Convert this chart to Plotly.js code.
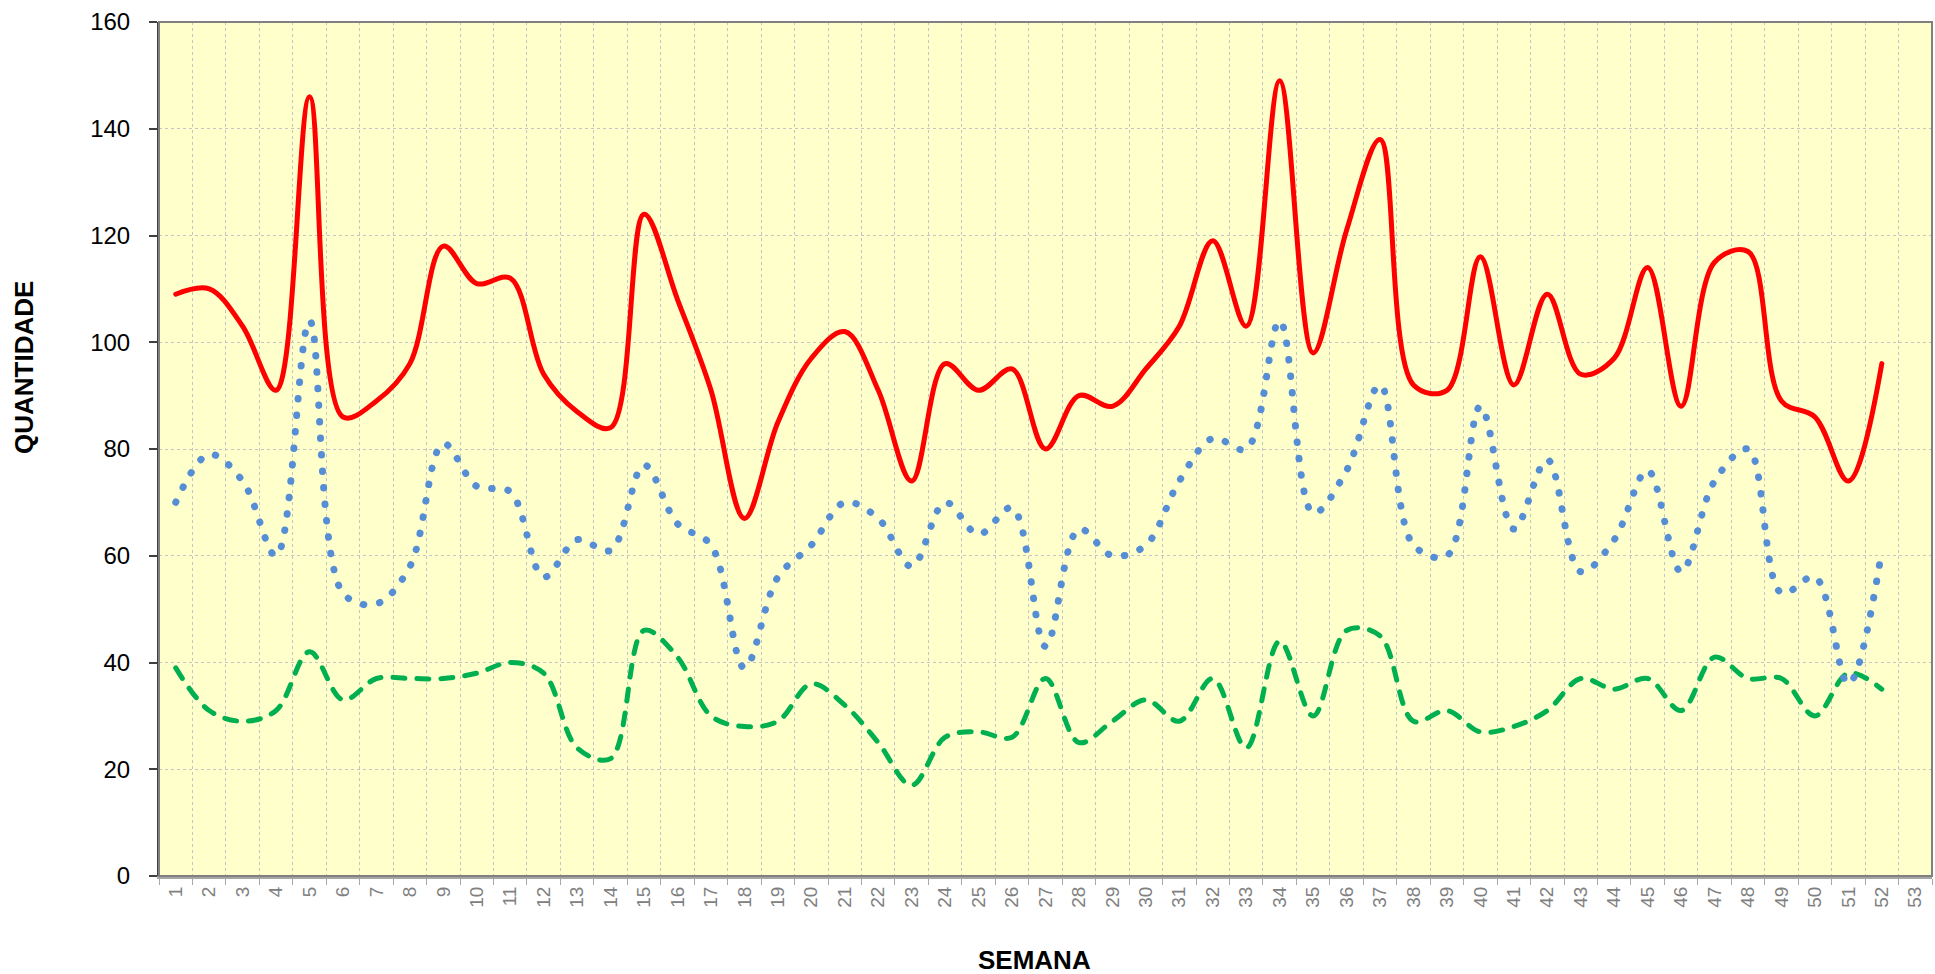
<!DOCTYPE html>
<html>
<head>
<meta charset="utf-8">
<script src="https://cdn.plot.ly/plotly-3.0.1.min.js"></script>
<style>
  html, body { margin: 0; padding: 0; background: #ffffff; }
  #chart { width: 1935px; height: 974px; }
  .scatterlayer .js-line { stroke-linecap: round; stroke-linejoin: round; }
</style>
</head>
<body>
<div id="chart"></div>
<script>
// Tick labels (weeks)
const semanas = ['1','2','3','4','5','6','7','8','9','10','11','12','13','14','15','16','17','18','19','20',
  '21','22','23','24','25','26','27','28','29','30','31','32','33','34','35','36','37','38','39','40',
  '41','42','43','44','45','46','47','48','49','50','51','52','53'];

// Series values (weeks 1..52)
const serieVermelha = [109,110,103,91,146,86,89,96,118,111,112,94,87,84,124,108,91,67,85,97,102,91,74,96,91,95,80,90,88,95,103,119,103,149,98,121,138,92,91,116,92,109,94,97,114,88,115,117,89,86,74,96];
const serieAzul = [70,79,74,60,104,53,51,58,81,73,72,56,63,61,77,66,62,39,56,62,70,67,58,70,64,69,43,65,60,62,74,82,80,104,68,76,92,62,60,88,65,78,57,63,76,57,74,80,53,56,36,61];
const serieVerde = [39,31,29,31,42,33,37,37,37,38,40,38,24,22,46,41,30,28,29,36,32,25,17,26,27,26,37,25,29,33,29,37,24,44,30,46,45,29,31,27,28,31,37,35,37,31,41,37,37,30,38,35];

const xWeeks = semanas.slice(0, serieVermelha.length);

const traces = [
  { x: xWeeks, y: serieVerde, type: 'scatter', mode: 'lines', name: 'Verde',
    line: { color: '#00B050', width: 5, shape: 'spline', smoothing: 1, dash: '12px,12px' } },
  { x: xWeeks, y: serieVermelha, type: 'scatter', mode: 'lines', name: 'Vermelha',
    line: { color: '#FF0000', width: 5, shape: 'spline', smoothing: 1 } },
  { x: xWeeks, y: serieAzul, type: 'scatter', mode: 'lines', name: 'Azul',
    line: { color: '#558ED5', width: 7, shape: 'spline', smoothing: 1, dash: '0.5px,16px' } }
];

const fontFam = 'Liberation Sans, Arial, sans-serif';

const layout = {
  width: 1935, height: 974,
  margin: { l: 159, r: 3, t: 22, b: 98, pad: 0 },
  paper_bgcolor: '#ffffff',
  plot_bgcolor: '#FFFFCC',
  showlegend: false,
  font: { family: fontFam },
  xaxis: {
    type: 'category',
    categoryorder: 'array',
    categoryarray: semanas,
    range: [-0.5, semanas.length - 0.5],
    tickson: 'boundaries',
    ticks: 'outside', ticklen: 6, tickwidth: 1, tickcolor: '#a6a6a6',
    tickangle: -90,
    tickfont: { family: fontFam, size: 19, color: '#808080' },
    showgrid: true, gridcolor: '#c4c4c4', gridwidth: 1, griddash: 'dot',
    showline: true, linecolor: '#a6a6a6', linewidth: 3,
    zeroline: false, fixedrange: true
  },
  yaxis: {
    range: [0, 160], dtick: 20, tick0: 0,
    ticks: 'outside', ticklen: 8, tickwidth: 2, tickcolor: '#404040',
    tickfont: { family: fontFam, size: 24, color: '#000000' },
    ticklabelstandoff: 14,
    showgrid: true, gridcolor: '#c4c4c4', gridwidth: 1, griddash: 'dot',
    showline: true, linecolor: '#404040', linewidth: 2,
    zeroline: false, fixedrange: true
  },
  shapes: [
    { type: 'rect', xref: 'paper', yref: 'paper', x0: 0, x1: 1, y0: 0, y1: 1,
      line: { color: '#808080', width: 2 }, fillcolor: 'rgba(0,0,0,0)', layer: 'above' }
  ],
  annotations: [
    { text: '<b>QUANTIDADE</b>', xref: 'paper', yref: 'paper',
      x: (24 - 159) / 1773, y: (876 - 368) / 854, xanchor: 'center', yanchor: 'middle',
      textangle: -90, showarrow: false, font: { family: fontFam, size: 26, color: '#000000' } },
    { text: '<b>SEMANA</b>', xref: 'paper', yref: 'paper',
      x: (1034 - 159) / 1773, y: (876 - 960) / 854, xanchor: 'center', yanchor: 'middle',
      showarrow: false, font: { family: fontFam, size: 26, color: '#000000' } }
  ]
};

Plotly.newPlot('chart', traces, layout, { displayModeBar: false, staticPlot: true });
</script>
</body>
</html>
